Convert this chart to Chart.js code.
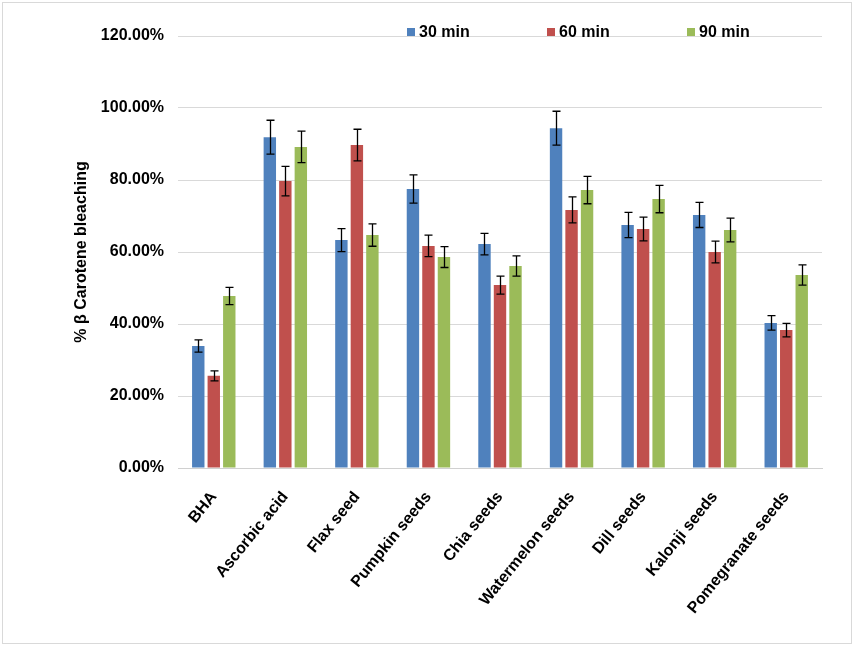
<!DOCTYPE html>
<html>
<head>
<meta charset="utf-8">
<script src="https://cdn.jsdelivr.net/npm/chart.js@4.4.1/dist/chart.umd.min.js"></script>
<style>
  html, body { margin: 0; background: #fff; }
  #wrap { width: 856px; height: 647px; }
</style>
</head>
<body>
<div id="wrap"><canvas id="myCanvas" width="856" height="647"></canvas></div>
<script>
const categories = ["BHA", "Ascorbic acid", "Flax seed", "Pumpkin seeds", "Chia seeds",
  "Watermelon seeds", "Dill seeds", "Kalonji seeds", "Pomegranate seeds"];
const seriesLabels = ["30 min", "60 min", "90 min"];

const values30 = [33.9, 91.9, 63.3, 77.5, 62.2, 94.4, 67.5, 70.3, 40.3];
const values60 = [25.6, 79.7, 89.7, 61.7, 50.8, 71.7, 66.4, 60.0, 38.3];
const values90 = [47.8, 89.2, 64.7, 58.6, 56.1, 77.2, 74.7, 66.1, 53.6];

const errors30 = [1.7, 4.7, 3.2, 3.9, 3.0, 4.7, 3.5, 3.5, 2.0];
const errors60 = [1.4, 4.1, 4.4, 3.0, 2.5, 3.6, 3.3, 3.0, 1.9];
const errors90 = [2.4, 4.4, 3.1, 2.9, 2.8, 3.8, 3.8, 3.3, 2.8];

const yMax = 120;
const yStep = 20;

const canvas = document.querySelector("#myCanvas");
const FONT = "Arial, 'Liberation Sans', sans-serif";

// grey frame round the whole picture
const framePlugin = {
  id: "frame",
  beforeDraw(chart) {
    const ctx = chart.ctx;
    ctx.save();
    ctx.fillStyle = "#fff";
    ctx.fillRect(0, 0, chart.width, chart.height);
    ctx.strokeStyle = "#d9d9d9";
    ctx.lineWidth = 1;
    ctx.strokeRect(2.5, 2.5, 849, 641);
    ctx.restore();
  }
};

// error bars drawn from each dataset's errors array
const errorBarPlugin = {
  id: "errorBars",
  afterDatasetsDraw(chart) {
    const ctx = chart.ctx;
    const y = chart.scales.y;
    ctx.save();
    ctx.strokeStyle = "#000";
    ctx.lineWidth = 1.3;
    chart.data.datasets.forEach((ds, i) => {
      const meta = chart.getDatasetMeta(i);
      meta.data.forEach((bar, j) => {
        const v = ds.data[j];
        const e = ds.errors[j];
        const top = y.getPixelForValue(v + e);
        const bot = y.getPixelForValue(v - e);
        const x = Math.round(bar.x) + 0.5;
        ctx.beginPath();
        ctx.moveTo(x, top);
        ctx.lineTo(x, bot);
        ctx.moveTo(x - 4, top);
        ctx.lineTo(x + 4, top);
        ctx.moveTo(x - 4, bot);
        ctx.lineTo(x + 4, bot);
        ctx.stroke();
      });
    });
    ctx.restore();
  }
};

// legend laid over the top of the plot, as in the original
const legendPlugin = {
  id: "overLegend",
  afterDraw(chart) {
    const ctx = chart.ctx;
    const xs = [407, 547, 687];
    ctx.save();
    ctx.font = "bold 16px " + FONT;
    ctx.textBaseline = "alphabetic";
    chart.data.datasets.forEach((ds, i) => {
      ctx.fillStyle = ds.backgroundColor;
      ctx.fillRect(xs[i], 28, 8, 8);
      ctx.fillStyle = "#000";
      ctx.fillText(ds.label, xs[i] + 12, 37);
    });
    ctx.restore();
  }
};

const data = {
  labels: categories,
  datasets: [
    { label: seriesLabels[0], data: values30, errors: errors30, backgroundColor: "#4F81BD" },
    { label: seriesLabels[1], data: values60, errors: errors60, backgroundColor: "#C0504D" },
    { label: seriesLabels[2], data: values90, errors: errors90, backgroundColor: "#9BBB59" }
  ]
};

const config = {
  type: "bar",
  data: data,
  plugins: [framePlugin, errorBarPlugin, legendPlugin],
  options: {
    responsive: false,
    animation: false,
    categoryPercentage: 0.65,
    barPercentage: 0.8,
    layout: { padding: { top: 36, right: 34, bottom: 0, left: 0 } },
    plugins: {
      legend: { display: false },
      tooltip: { enabled: false }
    },
    scales: {
      x: {
        afterFit: (scale) => { scale.height = 179; },
        grid: { display: false, drawTicks: false },
        border: { display: true, color: "#d0d0d0" },
        ticks: {
          color: "#000",
          font: { family: FONT, size: 16, weight: "bold" },
          maxRotation: 51,
          minRotation: 51,
          padding: 20
        }
      },
      y: {
        min: 0,
        max: yMax,
        afterFit: (scale) => { scale.width = 178; },
        grid: { color: "#d9d9d9", drawTicks: false },
        border: { display: false },
        ticks: {
          stepSize: yStep,
          color: "#000",
          padding: 14,
          font: { family: FONT, size: 16, weight: "bold" },
          callback: (v) => v.toFixed(2) + "%"
        },
        title: {
          display: true,
          text: "% β Carotene bleaching",
          color: "#000",
          font: { family: FONT, size: 16, weight: "bold" },
          padding: { top: 72, bottom: 0 }
        }
      }
    }
  }
};

const myChart = new Chart(canvas, config);
</script>
</body>
</html>
